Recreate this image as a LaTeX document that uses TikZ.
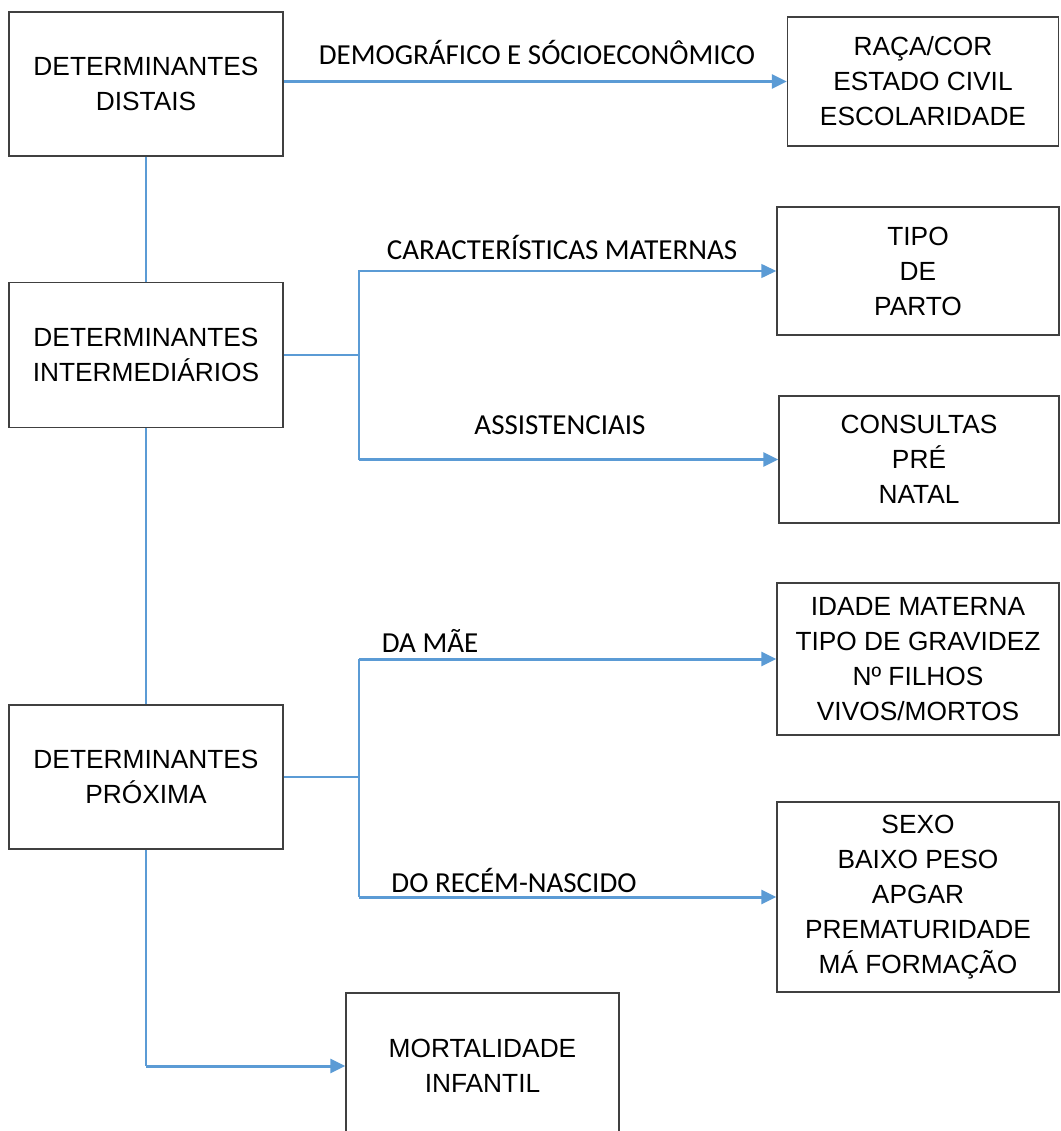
\documentclass[tikz,border=0pt]{standalone}
\usepackage{fontspec}
\setmainfont{Liberation Sans}
\newfontfamily\labelfont{Carlito}
\usetikzlibrary{arrows.meta}
\usepackage{xcolor}
\definecolor{linkblue}{HTML}{5B9BD5}
\definecolor{boxgray}{HTML}{404040}

\begin{document}
\begin{tikzpicture}[
  x=1pt, y=-1pt,
  % Box styling
  box/.style={draw=boxgray, line width=1.5pt, align=center, inner sep=0pt, font=\fontsize{26.3}{35}\selectfont},
  lbl/.style={inner sep=0pt, font=\labelfont\fontsize{29}{34}\selectfont},
  % Connector styling
  link/.style={draw=linkblue, line width=1.5pt},
  thinarrow/.style={link, -{Triangle[length=15pt,width=14pt]}},
  thickarrow/.style={draw=linkblue, line width=3pt, -{Triangle[length=15pt,width=14pt]}}
]
\useasboundingbox (0,0) rectangle (1060,1131);

% Determinant levels (left column)
\node[box, minimum width=274pt, minimum height=144pt] (distais) at (146,84) {DETERMINANTES\\DISTAIS};
\node[box, minimum width=274pt, minimum height=145pt] (intermed) at (146,355) {DETERMINANTES\\INTERMEDIÁRIOS};
\node[box, minimum width=274pt, minimum height=144pt] (proxima) at (146,777) {DETERMINANTES\\PRÓXIMA};
\node[box, minimum width=273pt, minimum height=146pt] (mortal) at (482.5,1066) {MORTALIDADE\\INFANTIL};

% Variables (right column)
\node[box, minimum width=271pt, minimum height=129pt] (raca) at (923,81.5) {RAÇA/COR\\ESTADO CIVIL\\ESCOLARIDADE};
\node[box, minimum width=282pt, minimum height=128pt] (parto) at (918,271) {TIPO\\DE\\PARTO};
\node[box, minimum width=280pt, minimum height=127pt] (consultas) at (919,459.5) {CONSULTAS\\PRÉ\\NATAL};
\node[box, minimum width=282pt, minimum height=152pt] (idade) at (918,659) {IDADE MATERNA\\TIPO DE GRAVIDEZ\\Nº FILHOS\\VIVOS/MORTOS};
\node[box, minimum width=282pt, minimum height=190pt] (sexo) at (918,897) {SEXO\\BAIXO PESO\\APGAR\\PREMATURIDADE\\MÁ FORMAÇÃO};

% Branch points
\coordinate (fork1) at (359,355);
\coordinate (fork2) at (359,777);

% Trunk
\draw[link] (distais.south) -- (intermed.north);
\draw[link] (intermed.south) -- (proxima.north);
\draw[link] (proxima.south) -- (proxima.south |- mortal.west);
\draw[thickarrow] (proxima.south |- mortal.west) -- (mortal.west);

% Distal
\draw[thickarrow] (distais.east |- raca.west) -- (raca.west);

% Intermediate
\draw[link] (intermed.east) -- (fork1);
\draw[thinarrow] (fork1) |- (parto.west);
\draw[link] (fork1) -- (fork1 |- consultas.west);
\draw[thickarrow] (fork1 |- consultas.west) -- (consultas.west);

% Proximate
\draw[link] (proxima.east) -- (fork2);
\draw[link] (fork2) -- (fork2 |- idade.west);
\draw[thickarrow] (fork2 |- idade.west) -- (idade.west);
\draw[link] (fork2) -- (fork2 |- sexo.west);
\draw[thickarrow] (fork2 |- sexo.west) -- (sexo.west);

% Branch labels
\node[lbl] (lbldemo) at (537,52) {DEMOGRÁFICO E SÓCIOECONÔMICO};
\node[lbl] (lblmat) at (562,247) {CARACTERÍSTICAS MATERNAS};
\node[lbl] (lblassist) at (560,425) {ASSISTENCIAIS};
\node[lbl] (lblmae) at (430,641) {DA MÃE};
\node[lbl] (lblrn) at (514,880) {DO RECÉM-NASCIDO};

\end{tikzpicture}
\end{document}
